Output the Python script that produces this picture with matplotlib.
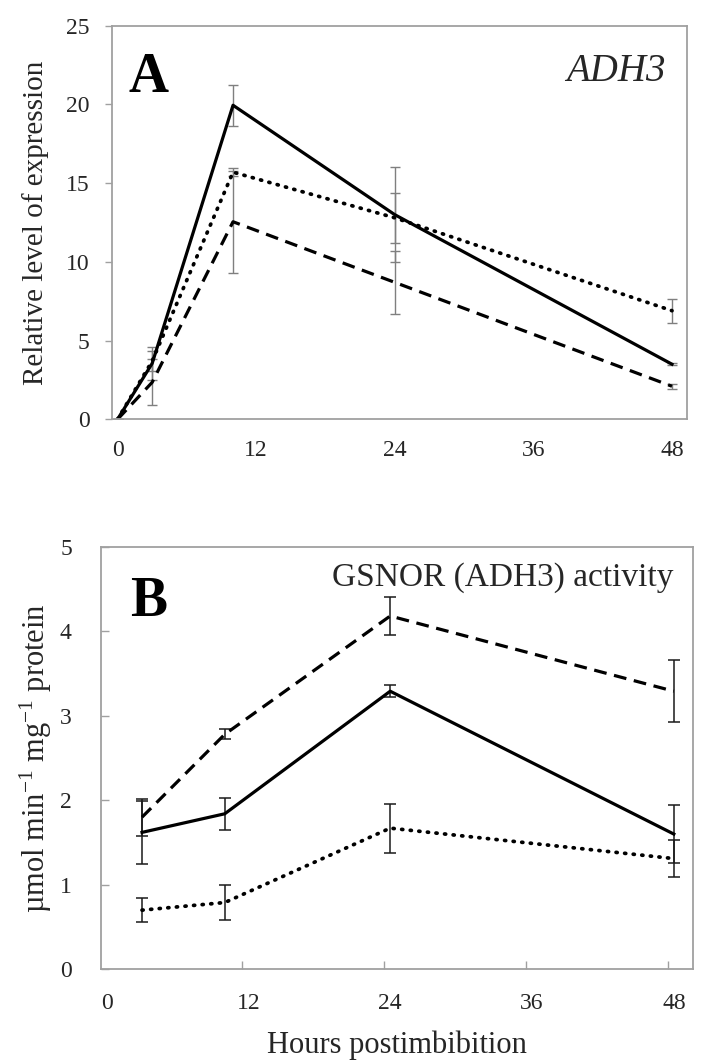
import matplotlib
matplotlib.use("Agg")
from matplotlib import pyplot as plt

plt.rcParams['font.family'] = ['Liberation Serif', 'DejaVu Serif']
plt.rcParams['mathtext.fontset'] = 'custom'
plt.rcParams['mathtext.rm'] = 'Liberation Serif'
plt.rcParams['mathtext.it'] = 'Liberation Serif:italic'

# panel A: relative expression of ADH3
hours_a = [0, 3, 10, 24, 48]
a_solid = [0, 3.55, 19.95, 13.0, 3.5]
a_solid_err = [0, 1.05, 1.3, 3.0, 0.05]
a_dotted = [0, 3.7, 15.7, 12.8, 6.9]
a_dotted_err = [0, 0.65, 0.25, 1.6, 0.75]
a_dashed = [0, 2.35, 12.55, 8.7, 2.1]
a_dashed_err = [0, 1.45, 3.25, 2.0, 0.15]

# panel B: GSNOR activity
hours_b = [3, 10, 24, 48]
b_solid = [1.62, 1.84, 3.29, 1.60]
b_solid_err = [0.37, 0.19, 0.07, 0.34]
b_dotted = [0.70, 0.79, 1.67, 1.31]
b_dotted_err = [0.14, 0.21, 0.29, 0.22]
b_dashed = [1.80, 2.78, 4.18, 3.29]
b_dashed_err = [0.22, 0.06, 0.23, 0.365]

xticks = [0, 12, 24, 36, 48]
spine_col = '#a0a0a0'
txt_col = '#262626'

fig = plt.figure(figsize=(7.06, 10.64), dpi=100)

styles = [
    dict(ls='-', lw=2.3),
    dict(ls=(0, (0.3, 2.0)), lw=2.7, dash_capstyle='round'),
    dict(ls=(0, (4.0, 2.4)), lw=2.3),
]

# ---- A ----
ax = fig.add_axes([0.1586, 0.6059, 0.8145, 0.3699])
series_a = [(a_solid, a_solid_err), (a_dotted, a_dotted_err), (a_dashed, a_dashed_err)]
for (y, e), st in zip(series_a, styles):
    ax.errorbar(hours_a, y, yerr=e, color='black', ecolor='#7f7f7f', elinewidth=1.0,
                capsize=3.6, capthick=1.0, **st)
ax.set_xlim(-0.48, 49.3)
ax.set_ylim(0, 25)
ax.set_yticks([0, 5, 10, 15, 20, 25])
ax.set_xticks(xticks)
ax.tick_params(axis='y', direction='out', length=5, width=1, color=spine_col,
               labelsize=17, labelcolor=txt_col, pad=11)
ax.tick_params(axis='x', length=0, labelsize=17, labelcolor=txt_col, pad=15)
for s in ax.spines.values():
    s.set_color(spine_col)
    s.set_linewidth(1.3)
ax.set_ylabel('Relative level of expression', fontsize=21, color=txt_col, labelpad=12)
ax.text(0.028, 0.867, 'A', transform=ax.transAxes, fontsize=40, fontweight='bold',
        va='center', ha='left')
ax.text(0.962, 0.883, 'ADH3', transform=ax.transAxes, fontsize=28, style='italic',
        va='center', ha='right', color=txt_col)

# ---- B ----
bx = fig.add_axes([0.1431, 0.0890, 0.8381, 0.3972])
series_b = [(b_solid, b_solid_err), (b_dotted, b_dotted_err), (b_dashed, b_dashed_err)]
for (y, e), st in zip(series_b, styles):
    bx.errorbar(hours_b, y, yerr=e, color='black', ecolor='#1a1a1a', elinewidth=1.1,
                capsize=4.3, capthick=1.1, **st)
bx.set_xlim(-0.47, 49.6)
bx.set_ylim(0, 5)
bx.set_yticks([0, 1, 2, 3, 4, 5])
bx.set_xticks(xticks)
bx.set_xticks([11.5, 23.5, 35.5, 47.5], minor=True)
bx.tick_params(axis='y', direction='in', length=6, width=1, color=spine_col,
               labelsize=17, labelcolor=txt_col, pad=21)
bx.tick_params(axis='x', which='major', length=0, labelsize=17, labelcolor=txt_col, pad=17)
bx.tick_params(axis='x', which='minor', direction='in', length=6, width=1, color=spine_col)
for s in bx.spines.values():
    s.set_color(spine_col)
    s.set_linewidth(1.3)
bx.set_ylabel(r'µmol min$^{\mathdefault{-1}}$ mg$^{\mathdefault{-1}}$ protein', fontsize=22,
              color=txt_col, labelpad=4)
bx.set_xlabel('Hours postimbibition', fontsize=22, color=txt_col, labelpad=12)
bx.text(0.049, 0.868, 'B', transform=bx.transAxes, fontsize=40, fontweight='bold',
        va='center', ha='left')
bx.text(0.967, 0.927, 'GSNOR (ADH3) activity', transform=bx.transAxes, fontsize=24,
        va='center', ha='right', color=txt_col)

fig.savefig('out.png', dpi=100)
